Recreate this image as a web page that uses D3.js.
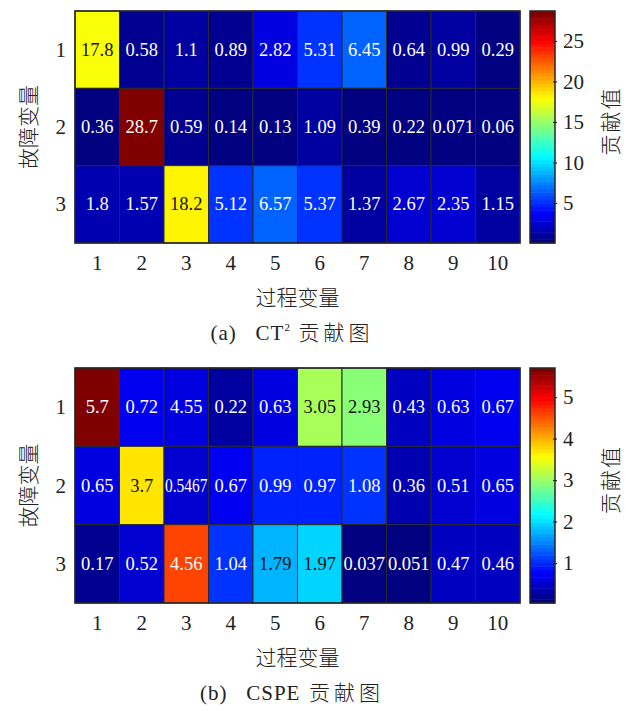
<!DOCTYPE html>
<html>
<head>
<meta charset="utf-8">
<script src="https://cdn.jsdelivr.net/npm/d3@7"></script>
<style>
  body { margin: 0; background: #fff; }
  text { font-family: "Liberation Serif", "Times New Roman", serif; fill: #222; }
  .cjk { font-family: "Noto Sans CJK SC", sans-serif; font-weight: 300; }
</style>
</head>
<body>
<svg id="chart" width="640" height="711"></svg>
<script>
// process variables (columns) and fault variables (rows)
var processVars = ['1', '2', '3', '4', '5', '6', '7', '8', '9', '10'];
var faultVars = ['1', '2', '3'];

// CT^2 contributions
var ct2Values = [
  [17.8, 0.58, 1.1, 0.89, 2.82, 5.31, 6.45, 0.64, 0.99, 0.29],
  [0.36, 28.7, 0.59, 0.14, 0.13, 1.09, 0.39, 0.22, 0.071, 0.06],
  [1.8, 1.57, 18.2, 5.12, 6.57, 5.37, 1.37, 2.67, 2.35, 1.15]
];
var ct2Ticks = [5, 10, 15, 20, 25];

// CSPE contributions (labels)
var cspeValues = [
  [5.7, 0.72, 4.55, 0.22, 0.63, 3.05, 2.93, 0.43, 0.63, 0.67],
  [0.65, 3.7, 0.5467, 0.67, 0.99, 0.97, 1.08, 0.36, 0.51, 0.65],
  [0.17, 0.52, 4.56, 1.04, 1.79, 1.97, 0.037, 0.051, 0.47, 0.46]
];
// colour used in the original figure (cell 1,3 is painted as a low value)
var cspeColorValues = [
  [5.7, 0.72, 0.57, 0.22, 0.63, 3.05, 2.93, 0.43, 0.63, 0.67],
  [0.65, 3.7, 0.5467, 0.67, 0.99, 0.97, 1.08, 0.36, 0.51, 0.65],
  [0.17, 0.52, 4.56, 1.04, 1.79, 1.97, 0.037, 0.051, 0.47, 0.46]
];
var cspeTicks = [1, 2, 3, 4, 5];

var svg = d3.select('#chart');

// matlab style jet, 64 steps
function jet(t) {
  t = Math.max(0, Math.min(1, t));
  t = Math.min(63, Math.floor(t * 64)) / 63;
  var r = Math.max(0, Math.min(1, 1.5 - Math.abs(4 * t - 3)));
  var g = Math.max(0, Math.min(1, 1.5 - Math.abs(4 * t - 2)));
  var b = Math.max(0, Math.min(1, 1.5 - Math.abs(4 * t - 1)));
  return d3.rgb(r * 255, g * 255, b * 255);
}

function drawPanel(values, colorValues, ticks, top, bottom, caption) {
  var left = 75, right = 520;
  var cbLeft = 530, cbRight = 555;
  var flat = [].concat.apply([], colorValues);
  var vmin = d3.min(flat), vmax = d3.max(flat);

  var x = d3.scaleBand().domain(processVars).range([left, right]);
  var y = d3.scaleBand().domain(faultVars).range([top, bottom]);
  var color = function(v) { return jet((v - vmin) / (vmax - vmin)); };

  var g = svg.append('g');

  var cells = [];
  values.forEach(function(row, i) {
    row.forEach(function(v, j) {
      cells.push({ row: faultVars[i], col: processVars[j], v: v, c: colorValues[i][j] });
    });
  });

  g.selectAll('rect.cell').data(cells).enter().append('rect')
    .attr('class', 'cell')
    .attr('x', function(d) { return x(d.col); })
    .attr('y', function(d) { return y(d.row); })
    .attr('width', x.bandwidth())
    .attr('height', y.bandwidth())
    .attr('fill', function(d) { return color(d.c); })
    .attr('stroke', '#2a2a2a')
    .attr('stroke-width', 1);

  g.selectAll('text.val').data(cells).enter().append('text')
    .attr('class', 'val')
    .attr('x', function(d) { return x(d.col) + x.bandwidth() / 2; })
    .attr('y', function(d) { return y(d.row) + y.bandwidth() / 2 + 6; })
    .attr('text-anchor', 'middle')
    .style('font-size', '18.5px')
    .style('fill', function(d) {
      var c = color(d.c);
      var lum = (0.299 * c.r + 0.587 * c.g + 0.114 * c.b) / 255;
      return lum > 0.5 ? '#111' : '#fff';
    })
    .text(function(d) { return d.v; })
    .each(function() {
      var w = this.getComputedTextLength();
      if (w > x.bandwidth() - 2) {
        d3.select(this).attr('textLength', x.bandwidth() - 2).attr('lengthAdjust', 'spacingAndGlyphs');
      }
    });

  g.append('rect')
    .attr('x', left).attr('y', top)
    .attr('width', right - left).attr('height', bottom - top)
    .attr('fill', 'none').attr('stroke', '#262626').attr('stroke-width', 1.5);

  // row labels
  g.selectAll('text.rowlab').data(faultVars).enter().append('text')
    .attr('x', left - 9)
    .attr('y', function(d) { return y(d) + y.bandwidth() / 2 + 7; })
    .attr('text-anchor', 'end')
    .style('font-size', '21px')
    .text(function(d) { return d; });

  // column labels
  g.selectAll('text.collab').data(processVars).enter().append('text')
    .attr('x', function(d) { return x(d) + x.bandwidth() / 2; })
    .attr('y', bottom + 27)
    .attr('text-anchor', 'middle')
    .style('font-size', '21px')
    .text(function(d) { return d; });

  g.append('text')
    .attr('class', 'cjk')
    .attr('transform', 'translate(36,' + ((top + bottom) / 2) + ') rotate(-90)')
    .attr('text-anchor', 'middle')
    .style('font-size', '21px')
    .text('故障变量');

  g.append('text')
    .attr('class', 'cjk')
    .attr('x', (left + right) / 2)
    .attr('y', bottom + 62)
    .attr('text-anchor', 'middle')
    .style('font-size', '21px')
    .text('过程变量');

  // caption
  var cap = g.append('text')
    .attr('x', 292)
    .attr('y', bottom + 97)
    .attr('text-anchor', 'middle')
    .style('font-size', '21px');
  caption(cap);

  // colorbar
  var cb = d3.scaleLinear().domain([vmin, vmax]).range([bottom, top]);
  var steps = d3.range(64);
  var stepH = (bottom - top) / 64;
  g.selectAll('rect.cb').data(steps).enter().append('rect')
    .attr('x', cbLeft)
    .attr('y', function(i) { return bottom - (i + 1) * stepH; })
    .attr('width', cbRight - cbLeft)
    .attr('height', stepH + 0.5)
    .attr('fill', function(i) { return jet(i / 63); });

  g.append('rect')
    .attr('x', cbLeft).attr('y', top)
    .attr('width', cbRight - cbLeft).attr('height', bottom - top)
    .attr('fill', 'none').attr('stroke', '#262626').attr('stroke-width', 1.5);

  var axis = d3.axisRight(cb).tickValues(ticks).tickFormat(d3.format('d')).tickSize(4).tickPadding(6);
  var ag = g.append('g')
    .attr('transform', 'translate(' + (cbRight - 2) + ',0)')
    .call(axis);
  ag.select('.domain').remove();
  ag.selectAll('line').attr('stroke', '#262626').attr('stroke-width', 1.2);
  ag.selectAll('text')
    .style('font-size', '21px')
    .style('font-family', '"Liberation Serif", serif')
    .attr('fill', '#222');

  g.append('text')
    .attr('class', 'cjk')
    .attr('transform', 'translate(618,' + ((top + bottom) / 2 - 6) + ') rotate(-90)')
    .attr('text-anchor', 'middle')
    .style('font-size', '21px')
    .style('letter-spacing', '2px')
    .text('贡献值');
}

drawPanel(ct2Values, ct2Values, ct2Ticks, 11, 243, function(t) {
  t.append('tspan').style('letter-spacing', '1px').text('(a)\u00a0\u00a0\u00a0CT');
  t.append('tspan').attr('dy', -9).style('font-size', '11px').text('2');
  t.append('tspan').attr('dy', 9).attr('class', 'cjk').style('letter-spacing', '4px').text(' 贡献图');
});

drawPanel(cspeValues, cspeColorValues, cspeTicks, 368, 603, function(t) {
  t.append('tspan').style('letter-spacing', '1px').text('(b)\u00a0\u00a0\u00a0CSPE');
  t.append('tspan').attr('class', 'cjk').style('letter-spacing', '4px').text(' 贡献图');
});
</script>
</body>
</html>
